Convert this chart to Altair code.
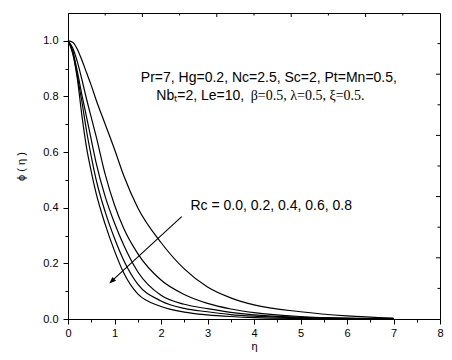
import altair as alt
import pandas as pd

# ---- data ----
eta = [0, 0.1, 0.2, 0.3, 0.4, 0.5, 0.6, 0.8, 1.0, 1.2, 1.5, 2.0, 2.5, 3.0, 3.5, 4.0, 5.0, 6.0, 7.0]
phi_rc00 = [1, .995, .97, .93, .885, .84, .79, .70, .61, .515, .40, .275, .18, .115, .076, .051, .026, .011, .003]
phi_rc02 = [1, .975, .925, .86, .79, .725, .66, .52, .41, .325, .235, .14, .088, .056, .036, .023, .009, .003, .001]
phi_rc04 = [1, .965, .89, .805, .725, .645, .565, .44, .345, .265, .17, .085, .053, .037, .024, .015, .006, .002, .0006]
phi_rc06 = [1, .96, .875, .78, .675, .585, .505, .385, .29, .21, .125, .065, .038, .026, .016, .010, .004, .0015, .0005]
phi_rc08 = [1, .955, .865, .73, .615, .53, .455, .34, .245, .165, .09, .045, .025, .015, .009, .005, .002, .0007, 0]
rc_values = ["0.0", "0.2", "0.4", "0.6", "0.8"]

x_ticks = [i * 0.5 for i in range(17)]
y_ticks = [i / 10 for i in range(11)]
top_major = [1.6, 3.2, 4.8, 6.4]
top_minor = [0.8, 2.4, 4.0, 5.6, 7.2]
right_major = [0.22, 0.44, 0.66, 0.88]
right_minor = [0.11, 0.33, 0.55, 0.77, 0.99]

series = [phi_rc00, phi_rc02, phi_rc04, phi_rc06, phi_rc08]
rows = []
for rc, vals in zip(rc_values, series):
    for e, p in zip(eta, vals):
        rows.append({"eta": e, "phi": p, "Rc": rc})
df = pd.DataFrame(rows)

W, H = 372, 306
FONT = "Liberation Sans"
xs = alt.Scale(domain=[0, 8], nice=False, zero=False)
ys = alt.Scale(domain=[0, 1.1], nice=False, zero=False)

x_axis = alt.Axis(
    values=x_ticks, title="η", grid=False,
    labelExpr="datum.value % 1 == 0 ? format(datum.value, 'd') : ''",
    tickSize={"condition": {"test": "datum.value % 1 == 0", "value": 5}, "value": 3},
    labelPadding=3, titlePadding=2, labelFont=FONT, titleFont=FONT,
    labelFontSize=11, titleFontSize=11, titleFontWeight="normal",
    domainColor="black", tickColor="black", labelColor="black", titleColor="black",
    labelFlush=False,
)
y_axis = alt.Axis(
    values=y_ticks, title="ϕ ( η )", grid=False,
    labelExpr="round(datum.value * 10) % 2 == 0 ? format(datum.value, '.1f') : ''",
    tickSize={"condition": {"test": "round(datum.value * 10) % 2 == 0", "value": 5}, "value": 3},
    labelPadding=5, titlePadding=16, labelFont=FONT, titleFont=FONT,
    labelFontSize=11, titleFontSize=11, titleFontWeight="normal",
    domainColor="black", tickColor="black", labelColor="black", titleColor="black",
    labelFlush=False,
)

lines = alt.Chart(df).mark_line(color="black", strokeWidth=1.2, interpolate="monotone").encode(
    x=alt.X("eta:Q", scale=xs, axis=x_axis),
    y=alt.Y("phi:Q", scale=ys, axis=y_axis),
    detail="Rc:N",
)

def vticks(vals, size):
    return alt.Chart(pd.DataFrame({"t": vals})).mark_rule(color="black", strokeWidth=1).encode(
        x=alt.X("t:Q", scale=xs, axis=x_axis), y=alt.value(0), y2=alt.value(size))

def hticks(vals, size):
    return alt.Chart(pd.DataFrame({"t": vals})).mark_rule(color="black", strokeWidth=1).encode(
        y=alt.Y("t:Q", scale=ys, axis=y_axis), x=alt.value(W), x2=alt.value(W - size))

def label(text, ex, ph, size=14, font=FONT, align="left", dy=0):
    return alt.Chart(pd.DataFrame({"a": [0]})).mark_text(
        text=text, font=font, fontSize=size, align=align, baseline="middle", color="black", dy=dy
    ).encode(x=alt.X(datum=ex, scale=xs, axis=x_axis), y=alt.Y(datum=ph, scale=ys, axis=y_axis))

texts = [
    label("Pr=7, Hg=0.2, Nc=2.5, Sc=2, Pt=Mn=0.5,", 4.32, 0.866, align="center"),
    label("Nbₜ=2, Le=10,", 1.90, 0.802),
    label("β=0.5, λ=0.5, ξ=0.5.", 3.93, 0.802, font="Liberation Serif"),
    label("Rc = 0.0, 0.2, 0.4, 0.6, 0.8", 4.37, 0.406, align="center"),
]

arrow_line = alt.Chart(pd.DataFrame({"a": [0]})).mark_rule(color="black", strokeWidth=1.1).encode(
    x=alt.X(datum=2.445, scale=xs, axis=x_axis), y=alt.Y(datum=0.368, scale=ys, axis=y_axis),
    x2=alt.datum(0.95), y2=alt.datum(0.138),
)
arrow_head = alt.Chart(pd.DataFrame({"a": [0]})).mark_point(
    shape="M0,0 L0.4,1 L-0.4,1 Z", filled=True, color="black", size=180, angle=227.4, opacity=1
).encode(x=alt.X(datum=0.888, scale=xs, axis=x_axis), y=alt.Y(datum=0.128, scale=ys, axis=y_axis))

chart = alt.layer(
    lines,
    vticks(top_major, 4), vticks(top_minor, 2.5),
    hticks(right_major, 4), hticks(right_minor, 2.5),
    arrow_line, arrow_head,
    *texts,
).properties(
    width=W, height=H,
    autosize=alt.AutoSizeParams(type="none"),
    padding={"left": 60, "top": 5, "right": 4, "bottom": 33},
    background="white",
).configure_view(stroke="black", strokeWidth=1)

chart.save("out.html", embed_options={"renderer": "svg", "actions": False})
